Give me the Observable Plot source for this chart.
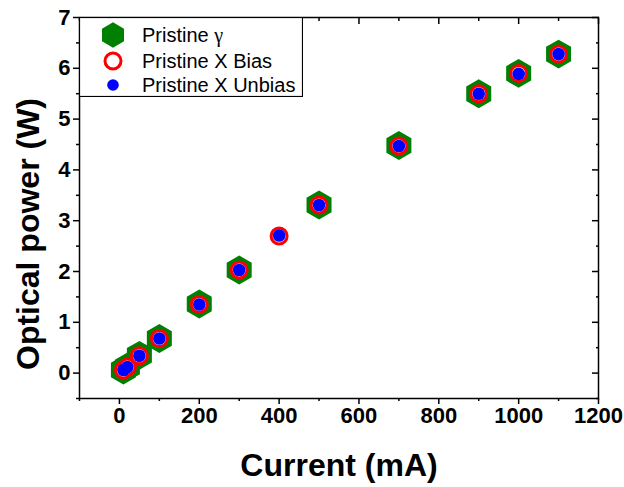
<!DOCTYPE html>
<html><head><meta charset="utf-8">
<script src="https://cdn.jsdelivr.net/npm/d3@7"></script>
<script src="https://cdn.jsdelivr.net/npm/@observablehq/plot@0.6"></script>
<style>
body{margin:0;background:#fff}
#wrap{position:relative;width:624px;height:487px}
#legend{position:absolute;left:79px;top:17px}
</style>
</head><body><div id="wrap"></div>
<script>
// ---- data ----
const currentGamma = [10, 20, 50, 100, 200, 300, 500, 700, 900, 1000, 1100];
const powerGamma   = [0.06, 0.12, 0.35, 0.68, 1.36, 2.03, 3.31, 4.48, 5.50, 5.90, 6.28];
const currentBias  = [10, 20, 50, 100, 200, 300, 400, 500, 700, 900, 1000, 1100];
const powerBias    = [0.06, 0.12, 0.34, 0.68, 1.35, 2.03, 2.70, 3.31, 4.47, 5.50, 5.90, 6.28];
const currentUnbias= [10, 20, 50, 100, 200, 300, 400, 500, 700, 900, 1000, 1100];
const powerUnbias  = [0.06, 0.12, 0.34, 0.68, 1.35, 2.03, 2.71, 3.31, 4.47, 5.50, 5.89, 6.28];
const xMajorTicks = [0, 200, 400, 600, 800, 1000, 1200];
const xMinorTicks = [-100, 100, 300, 500, 700, 900, 1100];
const yMajorTicks = [0, 1, 2, 3, 4, 5, 6, 7];
const yMinorTicks = [-0.5, 0.5, 1.5, 2.5, 3.5, 4.5, 5.5, 6.5];
const xLabel = "Current (mA)";
const yLabel = "Optical power (W)";
const legendLabels = ["Pristine ", "Pristine X Bias", "Pristine X Unbias"];
const gammaSymbol = "γ";

const gamma  = currentGamma.map((x, i) => ({x, y: powerGamma[i]}));
const bias   = currentBias.map((x, i) => ({x, y: powerBias[i]}));
const unbias = currentUnbias.map((x, i) => ({x, y: powerUnbias[i]}));

const font = "'Liberation Sans', Arial, sans-serif";
const sw = 1.5;
const blank = () => "";
const plain = d => String(d);

const chart = Plot.plot({
  width: 624, height: 487,
  marginLeft: 79, marginRight: 26, marginTop: 17, marginBottom: 89,
  style: {fontFamily: font, background: "white", color: "black", overflow: "visible"},
  x: {domain: [-100, 1200], label: null},
  y: {domain: [-0.5, 7], label: null},
  marks: [
    // bottom axis
    Plot.axisX({ticks: xMinorTicks, tickSize: 3, tickFormat: blank, label: null, strokeWidth: sw}),
    Plot.axisX({ticks: xMajorTicks, tickSize: 6, tickPadding: 3, tickFormat: plain, fontSize: 22, fontWeight: "bold", label: null, strokeWidth: sw}),
    // top axis (inward)
    Plot.axisX({anchor: "top", ticks: xMinorTicks, tickSize: 3, dy: 3, tickFormat: blank, label: null, strokeWidth: sw}),
    Plot.axisX({anchor: "top", ticks: xMajorTicks, tickSize: 6, dy: 6, tickFormat: blank, label: null, strokeWidth: sw}),
    // left axis
    Plot.axisY({ticks: yMinorTicks, tickSize: 3, tickFormat: blank, label: null, strokeWidth: sw}),
    Plot.axisY({ticks: yMajorTicks, tickSize: 6, tickPadding: 3, tickFormat: plain, fontSize: 22, fontWeight: "bold", label: null, strokeWidth: sw}),
    // right axis (inward)
    Plot.axisY({anchor: "right", ticks: yMinorTicks, tickSize: 3, dx: -3, tickFormat: blank, label: null, strokeWidth: sw}),
    Plot.axisY({anchor: "right", ticks: yMajorTicks, tickSize: 7, dx: -7, tickFormat: blank, label: null, strokeWidth: sw}),
    // data
    Plot.dot(gamma, {x: "x", y: "y", symbol: "hexagon", r: 12.5, fill: "#008000", stroke: "none"}),
    Plot.dot(bias, {x: "x", y: "y", symbol: "circle", r: 8, fill: "white", stroke: "#ff0000", strokeWidth: 3}),
    Plot.dot(unbias, {x: "x", y: "y", symbol: "circle", r: 6.3, fill: "#0000ff", stroke: "none"}),
    Plot.frame({stroke: "black", strokeWidth: sw}),
    // axis titles
    Plot.text([xLabel], {text: d => d, frameAnchor: "bottom", textAnchor: "middle", lineAnchor: "middle", dy: 67, fontSize: 32, fontWeight: "bold"}),
    Plot.text([yLabel], {text: d => d, frameAnchor: "left", textAnchor: "middle", lineAnchor: "middle", rotate: -90, dx: -51, dy: 26, fontSize: 32, fontWeight: "bold"})
  ]
});
const wrap = document.getElementById("wrap");
wrap.appendChild(chart);

// ---- legend overlay ----
const lw = 223, lh = 79;
const leg = d3.select(wrap).append("svg").attr("id", "legend").attr("width", lw + 1).attr("height", lh + 1);
leg.append("rect").attr("x", 0.5).attr("y", 0.5).attr("width", lw).attr("height", lh)
  .attr("fill", "white").attr("stroke", "black").attr("stroke-width", 1.2);
const sx = 34, rows = [18, 44, 68];
const rx = 11, ry = rx * 2 / Math.sqrt(3);
leg.append("path")
  .attr("d", `M0,${-ry}L${rx},${-ry/2}L${rx},${ry/2}L0,${ry}L${-rx},${ry/2}L${-rx},${-ry/2}Z`)
  .attr("transform", `translate(${sx},${rows[0]})`).attr("fill", "#008000");
leg.append("circle").attr("cx", sx).attr("cy", rows[1]).attr("r", 8).attr("fill", "white")
  .attr("stroke", "#ff0000").attr("stroke-width", 3);
leg.append("circle").attr("cx", sx).attr("cy", rows[2]).attr("r", 5.8).attr("fill", "#0000ff");
legendLabels.forEach((t, i) => {
  const tx = leg.append("text").attr("x", 63).attr("y", rows[i]).attr("dy", "0.35em")
    .attr("font-family", font).attr("font-size", 20).attr("fill", "black").text(t);
  if (i === 0) tx.append("tspan").attr("font-family", "'Liberation Serif', 'Times New Roman', serif").text(gammaSymbol);
});
</script>
</body></html>
